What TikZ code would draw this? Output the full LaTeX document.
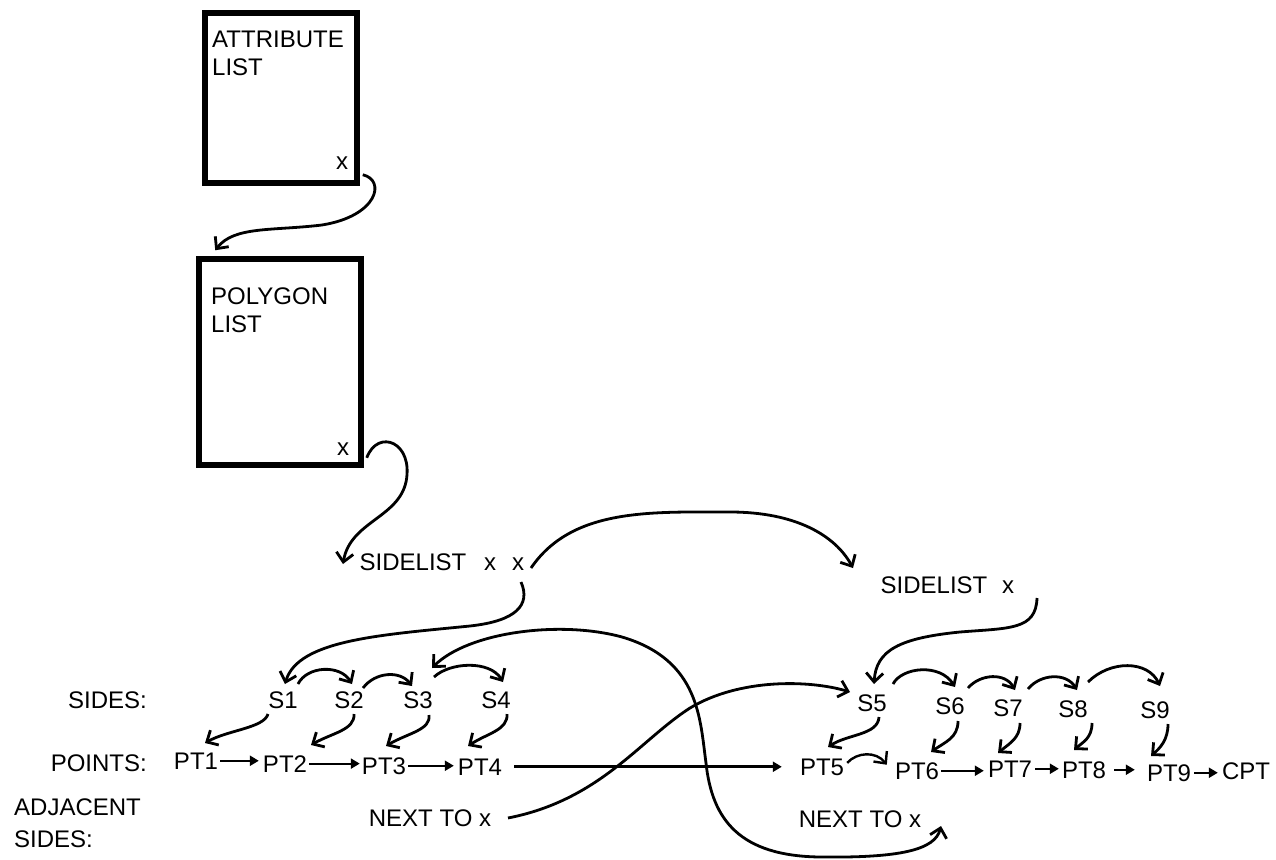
\documentclass[tikz,border=0pt]{standalone}
\usepackage{fontspec}
\setmainfont{Liberation Sans}
\usetikzlibrary{arrows.meta,calc}
\newcommand\labfont{\fontsize{24}{28}\selectfont}
\begin{document}
\begin{tikzpicture}[x=1pt,y=-1pt,
 txt/.style={font=\labfont, inner sep=0pt},
 boxst/.style={draw, line width=5.5pt, inner sep=0pt},
 curv/.style={line width=2.8pt, -{Straight Barb[length=9pt,width=17pt]}},
 curvb/.style={line width=2.8pt, {Straight Barb[length=9pt,width=17pt]}-{Straight Barb[length=9pt,width=17pt]}},
 sarr/.style={line width=2.2pt, -{Triangle[length=9pt,width=10pt]}},
]
\path[fill=white, use as bounding box] (0,0) rectangle (1276,859);

% boxes
\node[boxst, minimum width=152pt, minimum height=170pt] (box1) at (281,98) {};
\node[boxst, minimum width=162pt, minimum height=206pt] (box2) at (280,362) {};
\node[txt, anchor=north west, align=left] (attr) at (212,31) {ATTRIBUTE\\LIST};
\node[txt, anchor=north west, align=left] (poly) at (211,288) {POLYGON\\LIST};
\node[txt, anchor=base] (x1) at (342,169) {x};
\node[txt, anchor=base] (x2) at (343,455) {x};

% sidelists
\node[txt, anchor=base] (sl1) at (413,570) {SIDELIST};
\node[txt, anchor=base] (sl1a) at (490,570) {x};
\node[txt, anchor=base] (sl1b) at (518,570) {x};
\node[txt, anchor=base] (sl2) at (934,593) {SIDELIST};
\node[txt, anchor=base] (sl2x) at (1008,593) {x};

% row labels
\node[txt, anchor=base east] (sides) at (147,708) {SIDES:};
\node[txt, anchor=base east] (points) at (147,771) {POINTS:};
\node[txt, anchor=north west, align=left] (adj) at (14,799) {ADJACENT\\[4pt]SIDES:};

% sides
\node[txt, anchor=base] (S1) at (283,708) {S1};
\node[txt, anchor=base] (S2) at (349,708) {S2};
\node[txt, anchor=base] (S3) at (418,708) {S3};
\node[txt, anchor=base] (S4) at (496,708) {S4};
\node[txt, anchor=base] (S5) at (872,711) {S5};
\node[txt, anchor=base] (S6) at (950,714) {S6};
\node[txt, anchor=base] (S7) at (1008,716) {S7};
\node[txt, anchor=base] (S8) at (1073,717) {S8};
\node[txt, anchor=base] (S9) at (1155,718) {S9};

% points
\node[txt, anchor=base] (PT1) at (196,769) {PT1};
\node[txt, anchor=base] (PT2) at (285,772) {PT2};
\node[txt, anchor=base] (PT3) at (384,774) {PT3};
\node[txt, anchor=base] (PT4) at (480,775) {PT4};
\node[txt, anchor=base] (PT5) at (822,775) {PT5};
\node[txt, anchor=base] (PT6) at (917,779) {PT6};
\node[txt, anchor=base] (PT7) at (1010,777) {PT7};
\node[txt, anchor=base] (PT8) at (1084,778) {PT8};
\node[txt, anchor=base] (PT9) at (1169,781) {PT9};
\node[txt, anchor=base] (CPT) at (1246,779) {CPT};

% adjacent
\node[txt, anchor=base] (nt1) at (430,826) {NEXT TO x};
\node[txt, anchor=base] (nt2) at (860,827) {NEXT TO x};

% list links
\draw[curv] ($(box1.south east)+(3,-11)$) .. controls (386,180) and (378,216) .. (322,225)
  .. controls (272,231) and (234,226) .. ($(box2.north west)+(19,-6)$);
\draw[curv] ($(box2.south east)+(3,-10)$) .. controls (378,428) and (414,442) .. (406,482)
  .. controls (398,518) and (350,522) .. ($(sl1.base)+(-70,-6)$);
\draw[curv] ($(sl1b.base)+(13,-2)$) .. controls (572,508) and (650,512) .. (730,512)
  .. controls (795,512) and (835,535) .. ($(sl2.base)+(-81,-25)$);
\draw[curv] ($(sl1b.base)+(3,12)$) .. controls (531,605) and (516,621) .. (470,626)
  .. controls (380,635) and (298,640) .. ($(S1.base)+(2,-24)$);
\draw[curv] ($(sl2x.base)+(29,5)$) .. controls (1036,630) and (1010,628) .. (960,632)
  .. controls (900,638) and (876,650) .. ($(S5.base)+(2,-27)$);

% side to side arcs
\draw[curv] ($(S1.base)+(15,-24)$) .. controls (307,666) and (340,664) .. ($(S2.base)+(3,-24)$);
\draw[curv] ($(S2.base)+(14,-20)$) .. controls (375,672) and (400,670) .. ($(S3.base)+(-6,-22)$);
\draw[curv] ($(S3.base)+(16,-31)$) .. controls (450,662) and (490,660) .. ($(S4.base)+(7,-26)$);
\draw[curv] ($(S5.base)+(21,-27)$) .. controls (902,667) and (940,663) .. ($(S6.base)+(5,-27)$);
\draw[curv] ($(S6.base)+(18,-26)$) .. controls (980,674) and (1005,672) .. ($(S7.base)+(7,-26)$);
\draw[curv] ($(S7.base)+(20,-27)$) .. controls (1040,674) and (1066,672) .. ($(S8.base)+(4,-27)$);
\draw[curv] ($(S8.base)+(15,-35)$) .. controls (1110,660) and (1148,660) .. ($(S9.base)+(5,-32)$);

% sides to points
\draw[curv] ($(S1.base)+(-15,6)$) .. controls (264,728) and (228,730) .. ($(PT1.base)+(9,-26)$);
\draw[curv] ($(S2.base)+(5,6)$) .. controls (355,730) and (332,733) .. ($(PT2.base)+(26,-27)$);
\draw[curv] ($(S3.base)+(11,7)$) .. controls (431,730) and (408,733) .. ($(PT3.base)+(2,-28)$);
\draw[curv] ($(S4.base)+(11,6)$) .. controls (508,730) and (488,733) .. ($(PT4.base)+(-12,-29)$);
\draw[curv] ($(S5.base)+(7,6)$) .. controls (878,735) and (848,734) .. ($(PT5.base)+(6,-28)$);
\draw[curv] ($(S6.base)+(8,7)$) .. controls (958,738) and (945,742) .. ($(PT6.base)+(14,-27)$);
\draw[curv] ($(S7.base)+(12,7)$) .. controls (1020,738) and (1010,743) .. ($(PT7.base)+(-12,-24)$);
\draw[curv] ($(S8.base)+(19,6)$) .. controls (1092,738) and (1083,742) .. ($(PT8.base)+(-10,-28)$);
\draw[curv] ($(S9.base)+(13,6)$) .. controls (1168,740) and (1160,748) .. ($(PT9.base)+(-18,-25)$);

% points chain
\draw[sarr, shorten <=2pt, shorten >=4pt] (PT1.east) -- (PT1.east -| PT2.west);
\draw[sarr, shorten <=2pt, shorten >=2pt] (PT2.east) -- (PT2.east -| PT3.west);
\draw[sarr, shorten <=2pt, shorten >=4pt] (PT3.east) -- (PT3.east -| PT4.west);
\draw[sarr, line width=3.4pt, shorten <=12pt, shorten >=18pt] (PT4.east) -- (PT4.east -| PT5.west);
\draw[curv, line width=2.4pt] ($(PT5.east)+(3,-4)$) .. controls (857,752) and (876,751) .. ($(PT6.west)+(-8,-6)$);
\draw[sarr, shorten <=2pt, shorten >=4pt] (PT6.east) -- (PT6.east -| PT7.west);
\draw[sarr, shorten <=3pt, shorten >=3pt] (PT7.east) -- (PT7.east -| PT8.west);
\draw[sarr, shorten <=8pt, shorten >=12pt] (PT8.east) -- (PT8.east -| PT9.west);
\draw[sarr, shorten <=3pt, shorten >=4pt] (PT9.east) -- (PT9.east -| CPT.west);

% adjacent-side links
\draw[curv] ($(nt1.base)+(78,-8)$) .. controls (600,800) and (640,740) .. (690,708)
  .. controls (740,678) and (810,680) .. ($(S5.base)+(-22,-19)$);
\draw[curvb] ($(S3.base)+(14,-40)$) .. controls (468,632) and (560,620) .. (622,637)
  .. controls (700,660) and (700,720) .. (706,763)
  .. controls (712,820) and (740,856) .. (820,857)
  .. controls (900,858) and (935,850) .. ($(nt2.base)+(81,-1)$);
\end{tikzpicture}
\end{document}
